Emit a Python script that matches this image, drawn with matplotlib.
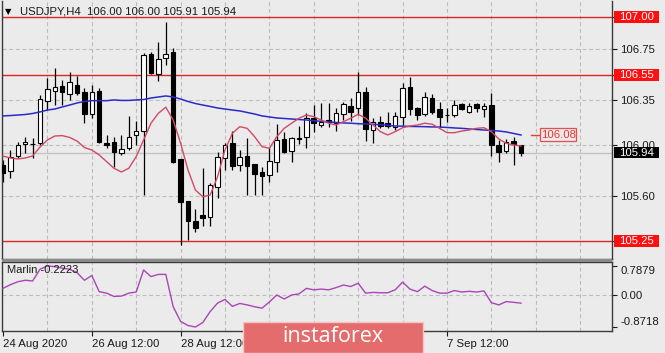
import matplotlib
matplotlib.use('Agg')
import matplotlib.pyplot as plt
from matplotlib.patches import Rectangle
from matplotlib.transforms import blended_transform_factory

# ---------------- data (USDJPY H4) ----------------
opens = [105.844, 105.797, 105.914, 106.008, 106.005, 106.016, 106.344, 106.422, 106.461, 106.398,
         106.469, 106.414, 106.242, 106.422, 106.016, 106.023, 105.938, 105.977, 106.078, 106.109,
         106.711, 106.555, 106.680, 106.727, 105.891, 105.562, 105.406, 105.453, 105.438, 105.672,
         105.898, 106.016, 105.844, 105.914, 105.852, 105.789, 105.766, 105.867, 106.047, 105.953,
         106.055, 106.062, 106.211, 106.156, 106.195, 106.172, 106.242, 106.305, 106.289, 106.414,
         106.117, 106.180, 106.172, 106.141, 106.219, 106.453, 106.289, 106.242, 106.367, 106.281,
         106.232, 106.234, 106.320, 106.258, 106.320, 106.281, 106.312, 106.000, 105.953, 106.031,
         106.000]
highs = [105.880, 105.961, 106.020, 106.062, 106.055, 106.391, 106.523, 106.602, 106.508, 106.570,
         106.539, 106.445, 106.469, 106.445, 106.078, 106.062, 106.078, 106.227, 106.188, 106.719,
         106.727, 106.805, 106.961, 106.758, 105.891, 105.562, 105.500, 105.820, 105.703, 105.945,
         106.016, 106.109, 105.961, 106.055, 105.852, 105.828, 105.984, 106.164, 106.102, 106.062,
         106.148, 106.250, 106.312, 106.328, 106.328, 106.289, 106.336, 106.367, 106.570, 106.453,
         106.211, 106.227, 106.258, 106.258, 106.484, 106.531, 106.297, 106.414, 106.398, 106.336,
         106.289, 106.352, 106.328, 106.328, 106.328, 106.328, 106.406, 106.039, 106.047, 106.062,
         106.000]
lows = [105.711, 105.742, 105.898, 105.938, 105.898, 106.000, 106.273, 106.312, 106.312, 106.352,
        106.391, 106.172, 106.211, 106.016, 105.977, 105.828, 105.922, 105.961, 106.000, 105.609,
        106.555, 106.500, 106.625, 105.860, 105.219, 105.258, 105.320, 105.367, 105.367, 105.586,
        105.805, 105.805, 105.797, 105.609, 105.609, 105.609, 105.711, 105.789, 105.938, 105.867,
        106.008, 105.977, 106.102, 106.141, 106.141, 106.109, 106.195, 106.188, 106.234, 106.031,
        106.016, 106.133, 106.133, 106.117, 106.156, 106.234, 106.195, 106.227, 106.242, 106.141,
        106.180, 106.219, 106.273, 106.250, 106.258, 106.219, 105.914, 105.867, 105.938, 105.844,
        105.910]
closes = [105.781, 105.906, 106.000, 106.023, 106.010, 106.359, 106.438, 106.453, 106.414, 106.492,
          106.406, 106.242, 106.414, 106.023, 106.000, 105.945, 105.969, 106.062, 106.109, 106.703,
          106.562, 106.672, 106.711, 105.867, 105.555, 105.406, 105.352, 105.430, 105.688, 105.906,
          106.000, 105.836, 105.906, 105.836, 105.773, 105.758, 105.875, 106.039, 105.945, 106.055,
          106.047, 106.211, 106.172, 106.180, 106.180, 106.250, 106.320, 106.258, 106.414, 106.125,
          106.180, 106.148, 106.148, 106.227, 106.445, 106.281, 106.234, 106.375, 106.258, 106.219,
          106.236, 106.312, 106.281, 106.305, 106.289, 106.305, 106.000, 105.945, 106.023, 106.008,
          105.940]

ma_slow = [106.227, 106.230, 106.234, 106.238, 106.246, 106.258, 106.273, 106.281, 106.297, 106.312,
           106.328, 106.340, 106.346, 106.346, 106.346, 106.352, 106.348, 106.348, 106.352, 106.355,
           106.367, 106.375, 106.383, 106.375, 106.359, 106.340, 106.324, 106.312, 106.301, 106.289,
           106.281, 106.273, 106.266, 106.254, 106.242, 106.227, 106.219, 106.211, 106.207, 106.203,
           106.199, 106.195, 106.190, 106.185, 106.180, 106.176, 106.172, 106.170, 106.166, 106.164,
           106.162, 106.158, 106.154, 106.148, 106.147, 106.145, 106.144, 106.143, 106.141, 106.140,
           106.137, 106.133, 106.130, 106.125, 106.121, 106.117, 106.113, 106.109, 106.102, 106.090,
           106.078]
ma_fast = [105.914, 105.898, 105.891, 105.898, 105.914, 105.984, 106.039, 106.070, 106.073, 106.059,
           106.031, 105.980, 105.961, 105.922, 105.870, 105.818, 105.789, 105.818, 105.909, 106.039,
           106.170, 106.248, 106.295, 106.195, 106.013, 105.805, 105.648, 105.596, 105.609, 105.752,
           105.961, 106.091, 106.143, 106.130, 106.065, 105.987, 105.974, 106.065, 106.130, 106.170,
           106.209, 106.234, 106.221, 106.195, 106.170, 106.156, 106.182, 106.209, 106.240, 106.209,
           106.156, 106.104, 106.078, 106.104, 106.135, 106.148, 106.156, 106.170, 106.162, 106.130,
           106.096, 106.096, 106.109, 106.117, 106.130, 106.135, 106.104, 106.047, 106.013, 106.000,
           105.992]
marlin = [0.18, 0.28, 0.36, 0.40, 0.38, 0.70, 0.79, 0.77, 0.73, 0.70,
          0.61, 0.40, 0.53, 0.09, 0.05, -0.04, -0.03, 0.05, 0.08, 0.68,
          0.50, 0.56, 0.56, -0.32, -0.72, -0.83, -0.8718, -0.75, -0.45, -0.22,
          -0.12, -0.31, -0.23, -0.27, -0.32, -0.36, -0.19, 0.00, -0.11, 0.00,
          0.03, 0.18, 0.14, 0.16, 0.14, 0.20, 0.27, 0.23, 0.32, 0.05,
          0.07, 0.06, 0.06, 0.14, 0.35, 0.16, 0.09, 0.24, 0.12, 0.05,
          0.05, 0.12, 0.08, 0.10, 0.08, 0.11, -0.21, -0.27, -0.18, -0.20,
          -0.2223]

# labels at bars 36 and 48 are hidden under the watermark in the reference
x_label_bars = [0, 12, 24, 36, 48, 60]
x_labels = ['24 Aug 2020', '26 Aug 12:00', '28 Aug 12:00', '', '', '7 Sep 12:00']
price_ticks = [106.75, 106.35, 106.00, 105.60]
levels = [107.00, 106.55, 105.25]
last_price = 105.94
ma_label_value = 106.08
marlin_ticks = [0.7879, 0.0, -0.8718]
marlin_tick_labels = ['0.7879', '0.00', '-0.8718']
title = 'USDJPY,H4  106.00 106.00 105.91 105.94'
marlin_title = 'Marlin -0.2223'

# ---------------- layout ----------------
W, H = 665, 353
BG = '#ebebeb'
GRID = '#bcbcbc'
FONT = ['Liberation Sans', 'DejaVu Sans']
plt.rcParams['font.family'] = FONT

def fx(px):
    return px / W

def fy(py):
    return 1 - py / H

fig = plt.figure(figsize=(W / 100, H / 100), dpi=100, facecolor=BG)
ax = fig.add_axes([fx(2), fy(259), fx(612) - fx(2), fy(1) - fy(259)], facecolor=BG)
ax2 = fig.add_axes([fx(2), fy(331), fx(612) - fx(2), fy(262) - fy(331)], facecolor=BG)

n = len(opens)
xs = list(range(n))
x_left, x_right = -0.135, 82.3
ax.set_xlim(x_left, x_right)
ax2.set_xlim(x_left, x_right)
ax.set_ylim(105.109, 107.125)
ax2.set_ylim(-0.980, 0.897)

for a in (ax, ax2):
    a.set_axisbelow(True)
    for s in a.spines.values():
        s.set_color('#3a3a3a')
        s.set_linewidth(1.0)
    for gx in range(6, 80, 6):
        a.axvline(gx, color=GRID, lw=0.8, ls=(0, (3.5, 2.5)), zorder=0.2)
ax.spines['top'].set_visible(False)

# horizontal grid in main panel
for p in price_ticks:
    ax.axhline(p, color=GRID, lw=0.8, ls=(0, (3.5, 2.5)), zorder=0.2)
ax2.axhline(0.0, color=GRID, lw=0.8, ls=(0, (3.5, 2.5)), zorder=0.2)

# bid line
ax.axhline(last_price, color='#c4c4c4', lw=1.0, zorder=0.3)

# level lines
for lv in levels:
    ax.axhline(lv, color='#e02424', lw=1.0, zorder=1)

# candles
ax.vlines(xs, lows, highs, color='black', lw=0.9, zorder=2)
for i in xs:
    o, c = opens[i], closes[i]
    bottom = min(o, c)
    h = max(abs(c - o), 0.006)
    up = c >= o
    ax.bar(i, h, bottom=bottom, width=0.62,
           color='white' if up else 'black', edgecolor='black', linewidth=0.8, zorder=3)

# moving averages
ax.plot(xs, ma_slow, color='#2a2ac8', lw=1.1, zorder=4)
ax.plot(xs, ma_fast, color='#d24a64', lw=1.0, zorder=4)

# right axis of main panel
ax.yaxis.tick_right()
all_ticks = sorted(price_ticks + levels)
ax.set_yticks(all_ticks)
ax.set_yticklabels(['' if t in levels else f'{t:.2f}' for t in all_ticks])
ax.tick_params(axis='y', length=3.5, width=0.8, pad=2.5, labelsize=8.2, colors='#1a1a1a')
ax.tick_params(axis='x', bottom=False, labelbottom=False)

tr = blended_transform_factory(fig.transFigure, ax.transData)
ppx = (107.125 - 105.109) / 258.0  # price per pixel
for lv in levels:
    ax.add_patch(Rectangle((fx(614), lv - 6 * ppx), fx(659) - fx(614), 12 * ppx,
                           transform=tr, facecolor='#ff0f0f', edgecolor='none',
                           clip_on=False, zorder=6))
    ax.text(fx(636.5), lv, f'{lv:.2f}', transform=tr, ha='center', va='center',
            color='white', fontsize=8.2, clip_on=False, zorder=7)
ax.add_patch(Rectangle((fx(614), last_price - 5.5 * ppx), fx(659) - fx(614), 11 * ppx,
                       transform=tr, facecolor='black', edgecolor='none',
                       clip_on=False, zorder=6))
ax.text(fx(636.5), last_price, f'{last_price:.2f}', transform=tr, ha='center', va='center',
        color='white', fontsize=8.2, clip_on=False, zorder=7)

# MA value label
ax.plot([71.3, 72.4], [ma_label_value, ma_label_value], color='#e04040', lw=1.0, zorder=5)
ax.add_patch(Rectangle((72.6, ma_label_value - 6.5 * ppx), 4.9, 13 * ppx,
                       facecolor='#efe6e6', edgecolor='#e05050', linewidth=0.9, zorder=5))
ax.text(75.05, ma_label_value, f'{ma_label_value:.2f}', ha='center', va='center',
        color='#e03a3a', fontsize=8.2, zorder=6)

# title
fig.text(fx(5), fy(12), '\u25bc', fontsize=6, family='DejaVu Sans', va='center', ha='left', color='black')
fig.text(fx(20), fy(12), title, fontsize=8.2, va='center', ha='left', color='#1a1a1a')

# ---------------- lower panel ----------------
ax2.plot(xs, marlin, color='#a847b4', lw=1.0, zorder=3)
ax2.yaxis.tick_right()
ax2.set_yticks(marlin_ticks)
ax2.set_yticklabels(marlin_tick_labels)
ax2.tick_params(axis='y', length=3.5, width=0.8, pad=2.5, labelsize=8.2, colors='#1a1a1a')
labs = ax2.get_yticklabels()
labs[0].set_va('top')
labs[2].set_va('bottom')
ax2.set_xticks(x_label_bars)
ax2.set_xticklabels(x_labels)
ax2.tick_params(axis='x', length=3.5, width=0.8, pad=2.5, labelsize=8.2, colors='#1a1a1a')
for lb in ax2.get_xticklabels():
    lb.set_ha('left')
ax2.text(0.008, 0.88, marlin_title, transform=ax2.transAxes, fontsize=8.0,
         ha='left', va='center', color='#1a1a1a', zorder=5)

# panel separator band
fig.patches.append(Rectangle((fx(2), fy(262)), fx(612) - fx(2), fy(259) - fy(262),
                             transform=fig.transFigure, facecolor='#8a8a8a', edgecolor='none'))

# watermark
fig.patches.append(Rectangle((fx(243), 0), fx(423) - fx(243), fy(322),
                             transform=fig.transFigure, facecolor='#e46c6c',
                             edgecolor='#f6c4c4', linewidth=1.0, zorder=10))
fig.text(fx(333), fy(337), 'instaforex', fontsize=15.5, color='white', ha='center', va='center',
         family=['Open Sans', 'DejaVu Sans'], zorder=11)

fig.savefig('out.png', dpi=100, facecolor=BG)
